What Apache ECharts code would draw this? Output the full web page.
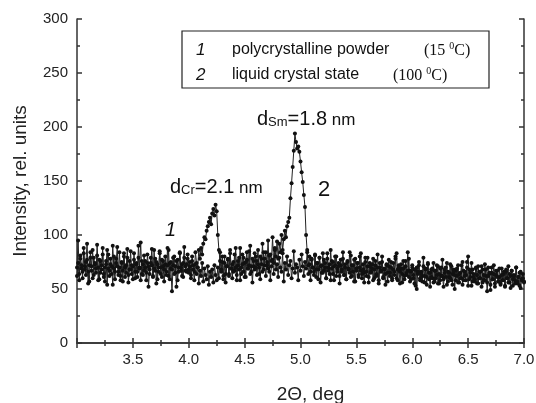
<!DOCTYPE html>
<html>
<head>
<meta charset="utf-8">
<script src="https://cdn.jsdelivr.net/npm/echarts@6/dist/echarts.min.js"></script>
<style>
  html, body { margin: 0; padding: 0; background: #fff; }
  #chart { width: 536px; height: 403px; }
</style>
</head>
<body>
<div id="chart"></div>
<script>
// 2Θ grid of the scan (one row below = 0.20 deg)
const thetaStart = 3.0;
const thetaStep = 0.01;

// curve 1: polycrystalline powder (15 °C)
const powder = [
  62, 74, 58, 81, 69, 66, 88, 71, 63, 77, 55, 72, 84, 67, 60, 79, 73, 65, 91, 70,
  59, 76, 68, 82, 64, 57, 73, 86, 69, 62, 78, 71, 54, 80, 66, 74, 89, 63, 70, 58,
  75, 67, 83, 61, 72, 79, 56, 68, 85, 64, 71, 77, 60, 73, 66, 90, 69, 58, 76, 63,
  81, 70, 65, 74, 52, 68, 79, 72, 61, 86, 67, 75, 59, 70, 83, 64, 77, 71, 57, 73,
  66, 88, 62, 74, 69, 48, 72, 80, 65, 76, 58, 70, 84, 67, 73, 61, 79, 71, 66, 82,
  68, 75, 63, 80, 72, 66, 84, 74, 70, 86, 78, 88, 82, 92, 98, 96, 104, 108, 112, 116,
  110, 120, 124, 118, 128, 122, 100, 86, 76, 68, 80, 62, 74, 56, 71, 78, 64, 83, 69, 60,
  75, 67, 88, 63, 72, 79, 58, 70, 82, 66, 74, 61, 77, 69, 85, 64, 71, 56, 76, 68,
  80, 63, 73, 70, 59, 78, 66, 84, 72, 62, 75, 69, 81, 58, 71, 77, 64, 86, 68, 73,
  61, 79, 70, 66, 83, 57, 74, 68, 80, 63, 72, 76, 60, 69, 85, 65, 73, 70, 58, 77,
  67, 82, 71, 62, 75, 69, 86, 64, 73, 58, 78, 70, 66, 81, 61, 74, 68, 79, 56, 72,
  65, 77, 70, 60, 83, 67, 73, 58, 76, 64, 71, 80, 62, 69, 74, 55, 72, 66, 78, 63,
  70, 59, 75, 68, 84, 61, 72, 66, 77, 57, 69, 74, 63, 80, 67, 60, 73, 65, 79, 62,
  71, 56, 74, 66, 69, 78, 60, 72, 64, 82, 58, 70, 67, 75, 61, 68, 54, 73, 65, 77,
  62, 70, 58, 74, 66, 80, 60, 68, 72, 55, 69, 64, 76, 59, 71, 63, 67, 78, 57, 66,
  72, 60, 68, 53, 70, 64, 75, 58, 66, 62, 79, 56, 69, 61, 73, 65, 52, 68, 60, 74,
  57, 67, 63, 71, 55, 69, 62, 77, 59, 65, 70, 54, 66, 61, 73, 58, 64, 68, 50, 67,
  62, 72, 56, 65, 60, 75, 58, 66, 63, 70, 53, 68, 61, 74, 57, 64, 59, 69, 55, 71,
  60, 66, 52, 68, 58, 73, 62, 56, 70, 64, 49, 65, 59, 72, 55, 63, 67, 57, 61, 54,
  69, 58, 64, 52, 66, 60, 71, 56, 62, 67, 53, 63, 58, 70, 55, 61, 65, 51, 59, 64,
  57
];

// curve 2: liquid crystal state (100 °C)
const liquid = [
  70, 95, 64, 78, 72, 60, 83, 68, 75, 92, 66, 57, 79, 71, 86, 63, 74, 69, 81, 58,
  77, 65, 72, 88, 61, 70, 76, 54, 82, 67, 73, 64, 90, 69, 59, 78, 71, 66, 84, 62,
  74, 57, 80, 70, 65, 87, 63, 76, 68, 72, 59, 83, 66, 74, 61, 79, 70, 93, 64, 73,
  67, 76, 58, 82, 71, 64, 74, 87, 62, 69, 78, 55, 73, 66, 85, 70, 61, 76, 68, 80,
  63, 72, 86, 59, 75, 68, 79, 64, 71, 52, 77, 66, 83, 70, 62, 74, 89, 67, 73, 78,
  65, 71, 60, 76, 68, 58, 73, 64, 70, 55, 67, 62, 74, 57, 69, 63, 59, 71, 54, 66,
  61, 68, 56, 72, 63, 58, 70, 60, 84, 66, 75, 59, 80, 64, 71, 77, 62, 86, 69, 73,
  66, 82, 70, 58, 76, 68, 88, 64, 73, 79, 61, 75, 84, 69, 72, 90, 66, 78, 71, 83,
  70, 76, 86, 64, 80, 73, 92, 68, 78, 84, 72, 95, 66, 82, 76, 98, 74, 88, 80, 94,
  78, 92, 84, 100, 86, 96, 104, 98, 108, 112, 116, 134, 148, 163, 178, 194, 186, 180, 182, 177,
  168, 158, 149, 137, 126, 100, 84, 72, 80, 66, 77, 70, 63, 82, 68, 74, 59, 79, 71, 65,
  83, 67, 74, 60, 78, 70, 64, 86, 69, 75, 58, 72, 80, 66, 71, 62, 77, 68, 84, 63,
  73, 59, 76, 69, 65, 81, 62, 72, 57, 78, 67, 74, 61, 70, 83, 64, 68, 56, 75, 66,
  79, 61, 71, 65, 73, 58, 68, 76, 62, 70, 55, 74, 66, 80, 60, 69, 64, 72, 57, 71,
  65, 75, 60, 68, 63, 78, 83, 58, 70, 66, 73, 56, 69, 62, 76, 65, 84, 61, 67, 59,
  70, 63, 55, 68, 50, 66, 72, 60, 64, 57, 71, 62, 68, 54, 74, 59, 65, 61, 69, 56,
  67, 60, 72, 55, 64, 58, 70, 62, 52, 68, 61, 74, 57, 65, 60, 71, 54, 66, 63, 58,
  69, 56, 64, 60, 72, 54, 67, 62, 58, 75, 80, 59, 65, 53, 68, 61, 57, 70, 63, 55,
  66, 60, 71, 56, 63, 58, 68, 48, 62, 65, 54, 70, 59, 64, 52, 67, 61, 57, 69, 55,
  63, 58, 66, 53, 68, 60, 56, 64, 51, 67, 59, 62, 55, 70, 57, 61, 53, 66, 58, 60,
  56
];

const toPairs = (arr) => arr.map((v, i) => [+(thetaStart + i * thetaStep).toFixed(2), v]);

const chart = echarts.init(document.getElementById('chart'));
const axisCol = '#333';
const font = 'Liberation Sans, Arial, sans-serif';
const serif = 'Liberation Serif, serif';

const baseX = {
  type: 'value', min: 3, max: 7, interval: 0.5,
  axisLine: { show: true, lineStyle: { color: axisCol, width: 1.5 } },
  axisTick: { inside: true, length: 5, lineStyle: { color: axisCol, width: 1.5 } },
  minorTick: { show: true, splitNumber: 2, length: 3, lineStyle: { color: axisCol, width: 1.5 } },
  splitLine: { show: false }
};
const baseY = {
  type: 'value', min: 0, max: 300, interval: 50,
  axisLine: { show: true, lineStyle: { color: axisCol, width: 1.5 } },
  axisTick: { inside: true, length: 5, lineStyle: { color: axisCol, width: 1.5 } },
  minorTick: { show: true, splitNumber: 2, length: 3, lineStyle: { color: axisCol, width: 1.5 } },
  splitLine: { show: false }
};

const seriesStyle = (name, data) => ({
  name: name, type: 'line', data: data,
  symbol: 'circle', symbolSize: 4,
  itemStyle: { color: '#111' },
  lineStyle: { color: '#222', width: 1 }
});

const peakRich = {
  a: { fontSize: 20, fontFamily: font, fill: '#111', verticalAlign: 'bottom' },
  b: { fontSize: 13, fontFamily: font, fill: '#111', verticalAlign: 'bottom' },
  c: { fontSize: 17, fontFamily: font, fill: '#111', verticalAlign: 'bottom' }
};
const tempRich = {
  t: { fontSize: 16, fontFamily: serif, fill: '#111', verticalAlign: 'bottom' },
  s: { fontSize: 10, fontFamily: serif, fill: '#111', verticalAlign: 'top', padding: [0, 0, 8, 0] }
};

let option = {
  animation: false,
  grid: { left: 77, right: 12, top: 19, bottom: 60, containLabel: false, outerBoundsMode: 'none' },
  xAxis: [
    Object.assign({}, baseX, {
      position: 'bottom',
      name: '2Θ, deg', nameLocation: 'middle', nameGap: 42,
      nameTextStyle: { fontSize: 19, color: '#222', fontFamily: font, padding: [0, 0, 0, 20] },
      axisLabel: {
        showMinLabel: false, fontSize: 15, color: '#222', fontFamily: font, margin: 9,
        formatter: (v) => v.toFixed(1)
      }
    }),
    Object.assign({}, baseX, { position: 'top', axisLabel: { show: false } })
  ],
  yAxis: [
    Object.assign({}, baseY, {
      position: 'left',
      name: 'Intensity, rel. units', nameLocation: 'middle', nameGap: 47,
      nameTextStyle: { fontSize: 19, color: '#222', fontFamily: font },
      axisLabel: { fontSize: 15, color: '#222', fontFamily: font, margin: 9 }
    }),
    Object.assign({}, baseY, { position: 'right', axisLabel: { show: false } })
  ],
  series: [
    seriesStyle('1', toPairs(powder)),
    seriesStyle('2', toPairs(liquid))
  ],
  graphic: [
    // legend box
    { type: 'rect', shape: { x: 182, y: 31, width: 307, height: 57 },
      style: { fill: '#fff', stroke: '#222', lineWidth: 1.2 }, z: 100 },
    { type: 'text', x: 196, y: 50, z: 101,
      style: { text: '1', font: 'italic 17px ' + font, fill: '#111', verticalAlign: 'middle' } },
    { type: 'text', x: 232, y: 50, z: 101,
      style: { text: 'polycrystalline powder', font: '16px ' + font, fill: '#111', verticalAlign: 'middle' } },
    { type: 'text', x: 424, y: 50, z: 101,
      style: { text: '{t|(15 }{s|0}{t|C)}', verticalAlign: 'middle', rich: tempRich } },
    { type: 'text', x: 196, y: 75, z: 101,
      style: { text: '2', font: 'italic 17px ' + font, fill: '#111', verticalAlign: 'middle' } },
    { type: 'text', x: 232, y: 75, z: 101,
      style: { text: 'liquid crystal state', font: '16px ' + font, fill: '#111', verticalAlign: 'middle' } },
    { type: 'text', x: 393, y: 75, z: 101,
      style: { text: '{t|(100 }{s|0}{t|C)}', verticalAlign: 'middle', rich: tempRich } },
    // peak labels
    { type: 'text', x: 170, y: 187, z: 101,
      style: { text: '{a|d}{b|Cr}{a|=2.1}{c| nm}', verticalAlign: 'middle', rich: peakRich } },
    { type: 'text', x: 257, y: 119, z: 101,
      style: { text: '{a|d}{b|Sm}{a|=1.8}{c| nm}', verticalAlign: 'middle', rich: peakRich } },
    { type: 'text', x: 165, y: 230, z: 101,
      style: { text: '1', font: 'italic 20px ' + font, fill: '#111', verticalAlign: 'middle' } },
    { type: 'text', x: 318, y: 190, z: 101,
      style: { text: '2', font: '22px ' + font, fill: '#111', verticalAlign: 'middle' } }
  ]
};

chart.setOption(option);
</script>
</body>
</html>
